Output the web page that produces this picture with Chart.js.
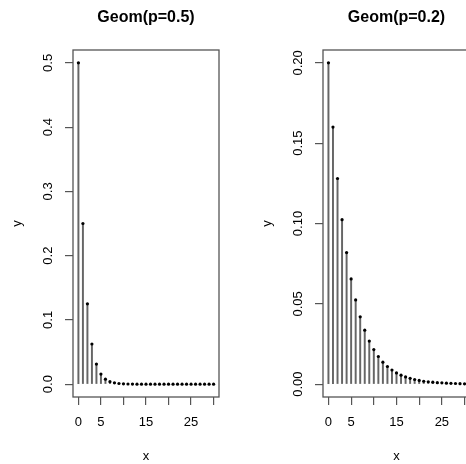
<!DOCTYPE html>
<html>
<head>
<meta charset="utf-8">
<script src="https://cdn.jsdelivr.net/npm/chart.js@4.4.1/dist/chart.umd.min.js"></script>
<style>
  html, body { margin: 0; padding: 0; background: #fff; }
  body { width: 466px; height: 464px; overflow: hidden; position: relative; }
  canvas { position: absolute; top: 0; }
</style>
</head>
<body>
<canvas id="left" width="233" height="464" style="left:0;width:233px;height:464px"></canvas>
<canvas id="right" width="233" height="464" style="left:250px;width:233px;height:464px"></canvas>
<script>
// x = 0..30, pmf values
var xValues = [0, 1, 2, 3, 4, 5, 6, 7, 8, 9, 10, 11, 12, 13, 14, 15, 16, 17, 18, 19, 20,
               21, 22, 23, 24, 25, 26, 27, 28, 29, 30];
var geomHalf = [0.5, 0.25, 0.125, 0.0625, 0.0313, 0.0156, 0.0078, 0.0039, 0.0020, 0.0010,
                0.0005, 0.0002, 0.0001, 0, 0, 0, 0, 0, 0, 0, 0,
                0, 0, 0, 0, 0, 0, 0, 0, 0, 0];
var geomFifth = [0.2000, 0.1600, 0.1280, 0.1024, 0.0819, 0.0655, 0.0524, 0.0419, 0.0336, 0.0268,
                 0.0215, 0.0172, 0.0137, 0.0110, 0.0088, 0.0070, 0.0056, 0.0045, 0.0036, 0.0029,
                 0.0023, 0.0018, 0.0015, 0.0012, 0.0009, 0.0008, 0.0006, 0.0005, 0.0004, 0.0003, 0.0002];
var xTickLabels = [0, 5, 15, 25];   // R drops 10, 20, 30 because they overlap
var titles = ['Geom(p=0.5)', 'Geom(p=0.2)'];

var FONT = "'Liberation Sans', Arial, Helvetica, sans-serif";
var INK = '#555';

// R style box round the plot region
var boxPlugin = {
    id: 'box',
    afterDraw: function(chart) {
        var a = chart.chartArea;
        var ctx = chart.ctx;
        ctx.save();
        ctx.strokeStyle = INK;
        ctx.lineWidth = 1.3;
        ctx.strokeRect(a.left, a.top, a.right - a.left, a.bottom - a.top);
        ctx.restore();
    }
};

function makeChart(canvasId, title, values, yMax, yStep, yDigits, yPad, rightPad) {
    var points = xValues.map(function(x, i) { return {x: x, y: values[i]}; });
    var ctx = document.getElementById(canvasId).getContext('2d');

    return new Chart(ctx, {
        type: 'bar',
        data: {
            datasets: [
                {
                    type: 'scatter',
                    data: points,
                    pointRadius: 1.6,
                    pointBackgroundColor: '#000',
                    pointBorderWidth: 0,
                    order: 0
                },
                {
                    type: 'bar',
                    data: points,
                    barThickness: 1.3,
                    backgroundColor: '#666',
                    borderWidth: 0,
                    order: 1
                }
            ]
        },
        options: {
            responsive: false,
            animation: false,
            layout: { padding: { top: 0, left: 0, right: rightPad, bottom: 0 } },
            plugins: {
                legend: { display: false },
                tooltip: { enabled: false },
                title: {
                    display: true,
                    text: title,
                    fullSize: false,
                    color: '#000',
                    font: { family: FONT, size: 16, weight: 'bold', lineHeight: 1.2 },
                    padding: { top: 8.4, bottom: 22.4 }
                }
            },
            scales: {
                x: {
                    type: 'linear',
                    min: -1.2,
                    max: 31.2,
                    offset: false,
                    afterFit: function(scale) { scale.height = 67; },
                    grid: { drawOnChartArea: false, offset: false, tickLength: 8, color: INK, lineWidth: 1.2 },
                    border: { display: false },
                    ticks: {
                        stepSize: 5,
                        includeBounds: false,
                        autoSkip: false,
                        maxRotation: 0,
                        padding: 10,
                        color: '#000',
                        font: { family: FONT, size: 13 },
                        callback: function(v) { return xTickLabels.indexOf(v) >= 0 ? String(v) : ''; }
                    },
                    title: {
                        display: true,
                        text: 'x',
                        color: '#000',
                        font: { family: FONT, size: 13 },
                        padding: { top: 0, bottom: 0 }
                    }
                },
                y: {
                    min: -yMax * 0.04,
                    max: yMax * 1.04,
                    afterFit: function(scale) { scale.width = 73; },
                    grid: { drawOnChartArea: false, tickLength: 8, color: INK, lineWidth: 1.2 },
                    border: { display: false },
                    ticks: {
                        stepSize: yStep,
                        includeBounds: false,
                        minRotation: 90,
                        maxRotation: 90,
                        crossAlign: 'center',
                        padding: yPad,
                        color: '#000',
                        font: { family: FONT, size: 13 },
                        callback: function(v) { return v.toFixed(yDigits); }
                    },
                    title: {
                        display: true,
                        text: 'y',
                        color: '#000',
                        font: { family: FONT, size: 13 },
                        padding: { top: 10, bottom: 0 }
                    }
                }
            }
        },
        plugins: [boxPlugin]
    });
}

makeChart('left', titles[0], geomHalf, 0.5, 0.1, 1, 8, 14);
makeChart('right', titles[1], geomFifth, 0.2, 0.05, 2, 4.4, 13);
</script>
</body>
</html>
